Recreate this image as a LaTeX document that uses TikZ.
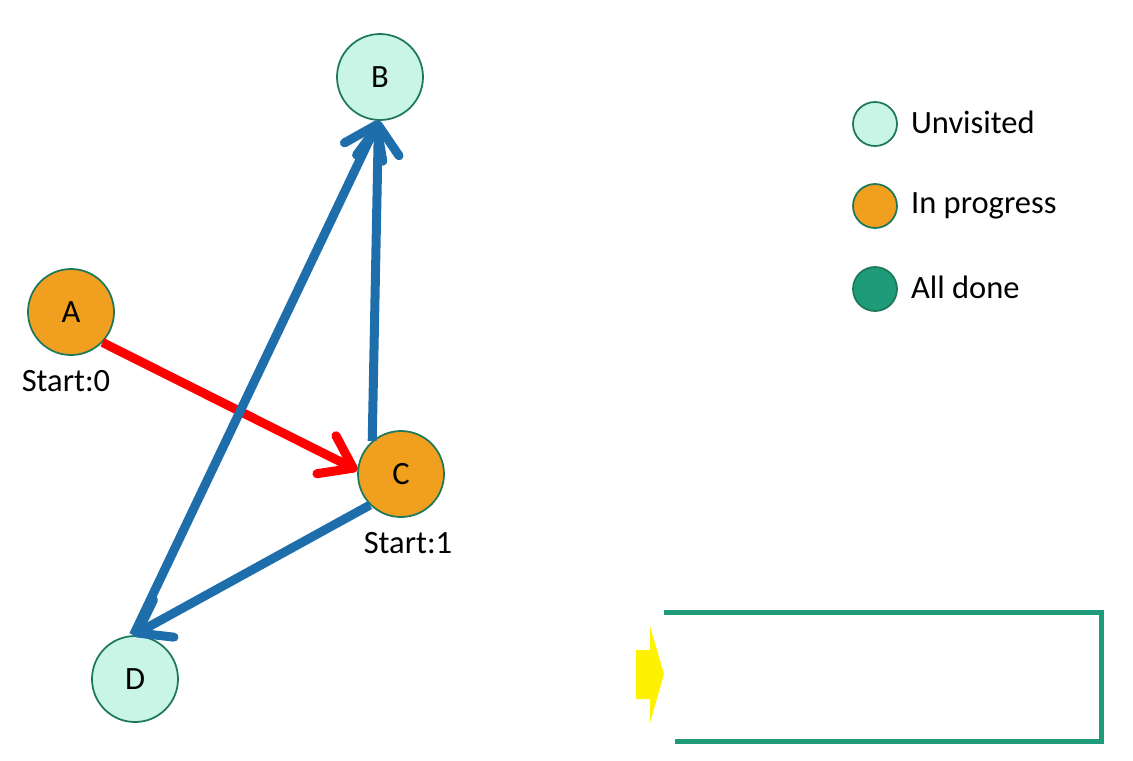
\documentclass[tikz,border=0pt]{standalone}
\usepackage{fontspec}
\setmainfont{Carlito}
\definecolor{unvfill}{RGB}{200, 245, 230}
\definecolor{nodeline}{RGB}{30, 120, 90}
\definecolor{progfill}{RGB}{240, 160, 30}
\definecolor{donefill}{RGB}{30, 155, 120}
\definecolor{edgeblue}{RGB}{31, 110, 172}
\definecolor{edgered}{RGB}{255, 0, 0}
\usetikzlibrary{arrows.meta, positioning}

\begin{document}
\begin{tikzpicture}[
  font=\fontsize{18.5}{22}\selectfont,
  vert/.style={circle, draw=nodeline, line width=1pt, minimum size=1.72cm, inner sep=0pt},
  key/.style={circle, draw=nodeline, line width=1pt, minimum size=0.88cm, inner sep=0pt},
  edge/.style={line width=0.18cm, edgeblue, -{Straight Barb[length=0.6cm, width=0.85cm, round]}},
]
  \useasboundingbox (0, 0) rectangle (22.66, -15.2);

  % Graph
  \node[vert, fill=progfill] (A) at (1.42, -6.24) {A};
  \node[vert, fill=unvfill] (B) at (7.60, -1.54) {B};
  \node[vert, fill=progfill] (C) at (8.02, -9.48) {C};
  \node[vert, fill=unvfill] (D) at (2.70, -13.58) {D};

  \node (start0) at (1.32, -7.62) {Start:0};
  \node (start1) at (8.16, -10.86) {Start:1};

  \draw[edge, edgered] (A.-44) -- (C.175);
  \draw[edge] (C.131) -- (B.268);
  \draw[edge] (C.225) -- (D.92);
  \draw[edge] (D.92) -- (B.268);

  % Legend
  \node[key, fill=unvfill] (kunv) at (17.5, -2.48) {};
  \node[key, fill=progfill] (kprog) at (17.5, -4.12) {};
  \node[key, fill=donefill] (kdone) at (17.5, -5.78) {};
  \node[right=0.14cm of kunv, yshift=0.03cm] (tunv) {Unvisited};
  \node[right=0.14cm of kprog] (tprog) {In progress};
  \node[right=0.14cm of kdone, yshift=0.03cm] (tdone) {All done};

  % Pointer and bracket
  \fill[yellow] (12.72, -13.0) -- (13.0, -13.0) -- (13.0, -12.52) -- (13.28, -13.48)
    -- (13.0, -14.46) -- (13.0, -13.98) -- (12.72, -13.98) -- cycle;
  \coordinate (btop) at (13.28, -12.24);
  \coordinate (bbot) at (13.50, -14.82);
  \draw[donefill, line width=0.1cm] (btop) -| (22.03, -14.82) -- (bbot);
\end{tikzpicture}
\end{document}
